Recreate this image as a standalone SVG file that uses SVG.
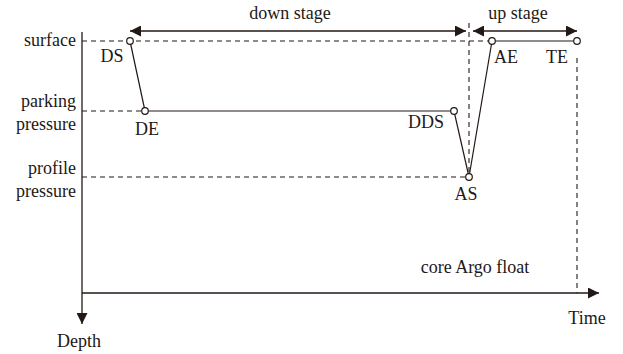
<svg xmlns="http://www.w3.org/2000/svg" width="623" height="354" viewBox="0 0 623 354">
<style>
text{font-family:"Liberation Serif","Times New Roman",serif;font-size:18px;fill:#231815}
.ax{stroke:#231815;stroke-width:1.3;fill:none}
.dash{stroke:#231815;stroke-width:1.1;fill:none;stroke-dasharray:5,4}
.ln{stroke:#231815;stroke-width:1.2;fill:none}
.pt{fill:#fff;stroke:#231815;stroke-width:1.2}
.r{text-anchor:end}
.m{text-anchor:middle}
</style>
<defs>
<marker id="ah" viewBox="0 0 11 11" refX="11" refY="5.5" markerWidth="11" markerHeight="11" markerUnits="userSpaceOnUse" orient="auto-start-reverse">
<path d="M0,0 L11,5.5 L0,11 z" fill="#231815"/>
</marker>
</defs>
<g id="axes">
<line class="ax" x1="82" y1="32" x2="82" y2="324" marker-end="url(#ah)"/>
<line class="ax" x1="82" y1="293" x2="599" y2="293" marker-end="url(#ah)"/>
<text x="79" y="347" class="m">Depth</text>
<text x="587" y="324" class="m">Time</text>
<text x="76" y="46" class="r">surface</text>
<text x="76" y="107" class="r">parking</text>
<text x="76" y="130" class="r">pressure</text>
<text x="76" y="174" class="r">profile</text>
<text x="76" y="197" class="r">pressure</text>
<text x="475" y="273" class="m">core Argo float</text>
</g>
<g id="connectors">
<line class="dash" x1="82" y1="41" x2="492" y2="41"/>
<line class="dash" x1="82" y1="111" x2="145" y2="111"/>
<line class="dash" x1="82" y1="177" x2="469" y2="177"/>
<line class="dash" x1="469" y1="23" x2="469" y2="177"/>
<line class="dash" x1="577" y1="58" x2="577" y2="293" stroke-dasharray="9,6"/>
<line class="ln" x1="130" y1="41" x2="145" y2="111"/>
<line class="ln" x1="145" y1="111" x2="454" y2="111"/>
<line class="ln" x1="454" y1="111" x2="469" y2="177"/>
<line class="ln" x1="469" y1="177" x2="492" y2="41"/>
<line class="ln" x1="492" y1="41" x2="577" y2="41"/>
<line class="ax" x1="130" y1="31" x2="466" y2="31" marker-start="url(#ah)" marker-end="url(#ah)"/>
<line class="ax" x1="473" y1="31" x2="577" y2="31" marker-start="url(#ah)" marker-end="url(#ah)"/>
<text x="290" y="19" class="m">down stage</text>
<text x="518" y="19" class="m">up stage</text>
</g>
<g id="DS"><circle class="pt" cx="130" cy="41" r="3.3"/><text x="112" y="62" class="m">DS</text></g>
<g id="DE"><circle class="pt" cx="145" cy="111" r="3.3"/><text x="147" y="135" class="m">DE</text></g>
<g id="DDS"><circle class="pt" cx="454" cy="111" r="3.3"/><text x="426" y="128" class="m">DDS</text></g>
<g id="AS"><circle class="pt" cx="469" cy="177" r="3.3"/><text x="466" y="200" class="m">AS</text></g>
<g id="AE"><circle class="pt" cx="492" cy="41" r="3.3"/><text x="506" y="63" class="m">AE</text></g>
<g id="TE"><circle class="pt" cx="577" cy="41" r="3.3"/><text x="557" y="63" class="m">TE</text></g>
</svg>
